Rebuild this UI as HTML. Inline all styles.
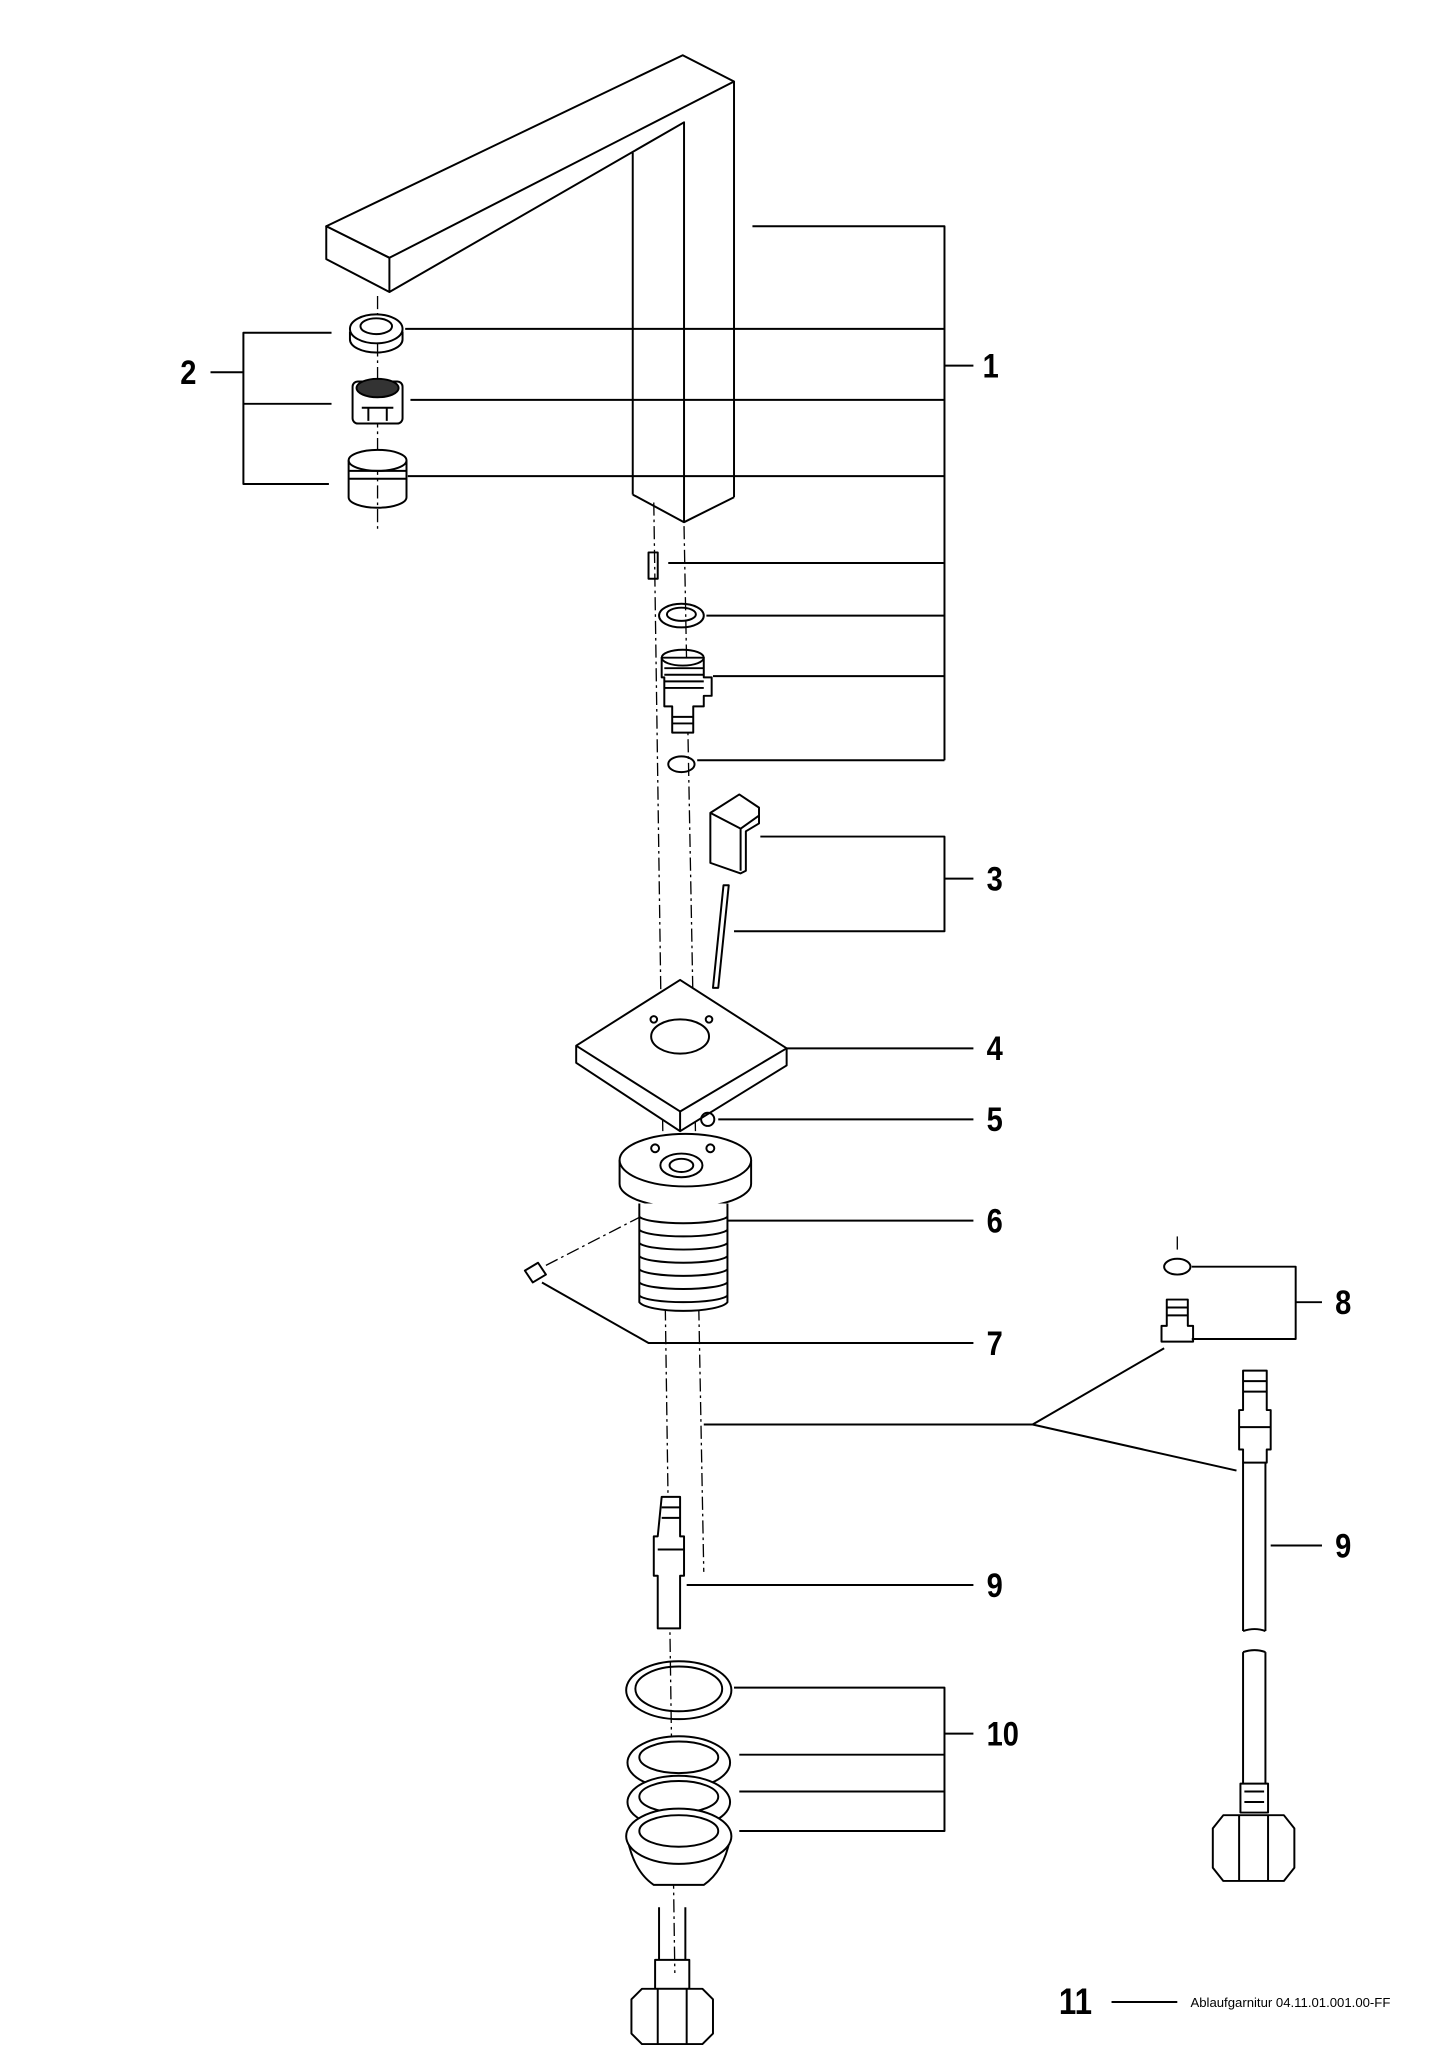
<!DOCTYPE html>
<html><head><meta charset="utf-8"><style>
html,body{margin:0;padding:0;background:#fff}
svg{display:block}
text{font-family:"Liberation Sans",sans-serif;fill:#000}
</style></head><body>
<svg width="1447" height="2048" viewBox="0 0 1100 1557" xmlns="http://www.w3.org/2000/svg">
<g fill="none" stroke="#000" stroke-width="1.5" stroke-linejoin="round">
<polygon points="248,172 519,42 558,62 296,196" fill="#fff"/>
<polygon points="248,172 296,196 296,222 248,197" fill="#fff"/>
<polyline points="296,222 520,93 520,397"/>
<line x1="558" y1="62" x2="558" y2="378"/>
<line x1="481" y1="116" x2="481" y2="376"/>
<polyline points="481,376 520,397 558,378"/>
<g stroke-width="1" stroke-dasharray="10,3,2,3">
<line x1="287" y1="225" x2="287" y2="405"/>
<line x1="497" y1="382" x2="513" y2="1500"/>
<line x1="520" y1="400" x2="535" y2="1195"/>
<line x1="415" y1="962" x2="487" y2="925"/>
<line x1="895" y1="940" x2="895" y2="953"/>
</g>
<polyline points="572,172 718,172 718,578"/>
<line x1="718" y1="278" x2="740" y2="278"/>
<line x1="308" y1="250" x2="718" y2="250"/>
<line x1="312" y1="304" x2="718" y2="304"/>
<line x1="310" y1="362" x2="718" y2="362"/>
<line x1="508" y1="428" x2="718" y2="428"/>
<line x1="537" y1="468" x2="718" y2="468"/>
<line x1="542" y1="514" x2="718" y2="514"/>
<line x1="530" y1="578" x2="718" y2="578"/>
<polyline points="252,253 185,253 185,368 250,368"/>
<line x1="185" y1="307" x2="252" y2="307"/>
<line x1="160" y1="283" x2="185" y2="283"/>
<ellipse cx="286" cy="250" rx="20" ry="11" fill="#fff"/>
<ellipse cx="286" cy="248" rx="12" ry="6"/>
<path d="M266,252 v6 a20,10 0 0 0 40,0 v-6"/>
<rect x="268" y="290" width="38" height="32" rx="4" fill="#fff"/>
<ellipse cx="287" cy="295" rx="16" ry="7" fill="#333"/>
<path d="M275,310 h24 M280,310 v10 M294,310 v10"/>
<ellipse cx="287" cy="350" rx="22" ry="8" fill="#fff"/>
<path d="M265,350 v28 a22,8 0 0 0 44,0 v-28 M265,358 h44 M265,364 h44"/>
<rect x="493" y="420" width="7" height="20"/>
<ellipse cx="518" cy="468" rx="17" ry="9"/>
<ellipse cx="518" cy="467" rx="11" ry="5"/>
<path d="M503,500 h32 v15 h6 v14 h-6 v8 h-8 v20 h-16 v-20 h-6 v-22 h-2z" fill="#fff"/>
<ellipse cx="519" cy="500" rx="16" ry="6"/>
<path d="M505,508 h30 M505,513 h30 M505,518 h30 M505,523 h30 M511,545 h16 M511,550 h16"/>
<ellipse cx="518" cy="581" rx="10" ry="6"/>
<path d="M540,618 l22,-14 l15,10 v12 l-10,6 v30 l-4,2 l-23,-8z" fill="#fff"/>
<path d="M540,618 l23,12 l14,-10 M563,630 v32"/>
<path d="M550,673 l4,0 l-8,78 l-4,0z"/>
<polyline points="578,636 718,636 718,708 558,708"/>
<line x1="718" y1="668" x2="740" y2="668"/>
<polygon points="517,745 598,797 598,810 517,860 438,808 438,795" fill="#fff"/>
<polyline points="438,795 517,845 598,797"/>
<line x1="517" y1="845" x2="517" y2="860"/>
<ellipse cx="517" cy="788" rx="22" ry="13"/>
<circle cx="497" cy="775" r="2.5"/><circle cx="539" cy="775" r="2.5"/>
<line x1="598" y1="797" x2="740" y2="797"/>
<circle cx="538" cy="851" r="5"/>
<line x1="546" y1="851" x2="740" y2="851"/>
<path d="M471,882 v18 a50,18 0 0 0 100,0 v-18" fill="#fff"/>
<ellipse cx="521" cy="882" rx="50" ry="20" fill="#fff"/>
<ellipse cx="518" cy="886" rx="16" ry="9"/>
<ellipse cx="518" cy="886" rx="9" ry="5"/>
<circle cx="498" cy="873" r="3"/><circle cx="540" cy="873" r="3"/>
<path d="M486,915 v75 a34,8 0 0 0 67,0 v-75" fill="#fff"/>
<path d="M486,925 a34,6 0 0 0 67,0 M486,935 a34,6 0 0 0 67,0 M486,945 a34,6 0 0 0 67,0 M486,955 a34,6 0 0 0 67,0 M486,965 a34,6 0 0 0 67,0 M486,975 a34,6 0 0 0 67,0 M486,985 a34,6 0 0 0 67,0"/>
<line x1="553" y1="928" x2="740" y2="928"/>
<path d="M399,966 l10,-6 l6,9 l-10,6z" fill="#fff"/>
<polyline points="412,975 493,1021 740,1021"/>
<ellipse cx="895" cy="963" rx="10" ry="6"/>
<path d="M887,988 h16 v20 h4 v12 h-24 v-12 h4z" fill="#fff"/>
<path d="M887,994 h16 M887,1000 h16"/>
<polyline points="906,963 985,963 985,1018 906,1018"/>
<line x1="985" y1="990" x2="1005" y2="990"/>
<line x1="535" y1="1083" x2="785" y2="1083"/>
<line x1="785" y1="1083" x2="885" y2="1025"/>
<line x1="785" y1="1083" x2="940" y2="1118"/>
<path d="M945,1042 h18 v30 h3 v30 h-3 v10 h-18 v-10 h-3 v-30 h3z" fill="#fff"/>
<path d="M945,1050 h18 M945,1058 h18 M942,1085 h24"/>
<path d="M945,1112 v128 M962,1112 v128 M945,1256 v100 M962,1256 v100"/>
<path d="M945,1240 q9,-3 17,0 M945,1256 q9,-3 17,0"/>
<path d="M943,1356 h21 v22 h-21z M946,1362 h15 M946,1370 h15"/>
<path d="M930,1380 h46 l8,10 v30 l-8,10 h-46 l-8,-10 v-30z" fill="#fff"/>
<path d="M942,1380 v50 M964,1380 v50"/>
<line x1="966" y1="1175" x2="1005" y2="1175"/>
<path d="M503,1138 h14 v30 h3 v30 h-3 v40 h-17 v-40 h-3 v-30 h3z" fill="#fff"/>
<path d="M503,1146 h14 M503,1154 h14 M500,1178 h20"/>
<line x1="522" y1="1205" x2="740" y2="1205"/>
<ellipse cx="516" cy="1285" rx="40" ry="22"/>
<ellipse cx="516" cy="1284" rx="33" ry="17"/>
<ellipse cx="516" cy="1340" rx="39" ry="20" fill="#fff"/>
<ellipse cx="516" cy="1336" rx="30" ry="12"/>
<ellipse cx="516" cy="1370" rx="39" ry="20" fill="#fff"/>
<ellipse cx="516" cy="1366" rx="30" ry="12"/>
<path d="M477,1398 q5,25 20,35 h38 q15,-10 20,-35" fill="#fff"/>
<ellipse cx="516" cy="1396" rx="40" ry="21" fill="#fff"/>
<ellipse cx="516" cy="1392" rx="30" ry="12"/>
<polyline points="558,1283 718,1283 718,1392 562,1392"/>
<line x1="562" y1="1334" x2="718" y2="1334"/>
<line x1="562" y1="1362" x2="718" y2="1362"/>
<line x1="718" y1="1318" x2="740" y2="1318"/>
<path d="M501,1450 v40 M521,1450 v40"/>
<path d="M498,1490 h26 v22 h-26z"/>
<path d="M488,1512 h46 l8,8 v26 l-8,8 h-46 l-8,-8 v-26z" fill="#fff"/>
<path d="M500,1512 v42 M522,1512 v42"/>
<line x1="845" y1="1522" x2="895" y2="1522"/>
</g>
<g font-size="26" font-weight="bold">
<text x="747" y="287" transform="translate(747 0) scale(0.85 1) translate(-747 0)">1</text>
<text x="137" y="292" transform="translate(137 0) scale(0.85 1) translate(-137 0)">2</text>
<text x="750" y="677" transform="translate(750 0) scale(0.85 1) translate(-750 0)">3</text>
<text x="750" y="806" transform="translate(750 0) scale(0.85 1) translate(-750 0)">4</text>
<text x="750" y="860" transform="translate(750 0) scale(0.85 1) translate(-750 0)">5</text>
<text x="750" y="937" transform="translate(750 0) scale(0.85 1) translate(-750 0)">6</text>
<text x="750" y="1030" transform="translate(750 0) scale(0.85 1) translate(-750 0)">7</text>
<text x="1015" y="999" transform="translate(1015 0) scale(0.85 1) translate(-1015 0)">8</text>
<text x="1015" y="1184" transform="translate(1015 0) scale(0.85 1) translate(-1015 0)">9</text>
<text x="750" y="1214" transform="translate(750 0) scale(0.85 1) translate(-750 0)">9</text>
<text x="750" y="1327" transform="translate(750 0) scale(0.85 1) translate(-750 0)">10</text>
<text x="805" y="1531" font-size="28" transform="translate(805 0) scale(0.85 1) translate(-805 0)">11</text>
</g>
<text x="905" y="1526" font-size="10">Ablaufgarnitur 04.11.01.001.00-FF</text>
</svg>
</body></html>
